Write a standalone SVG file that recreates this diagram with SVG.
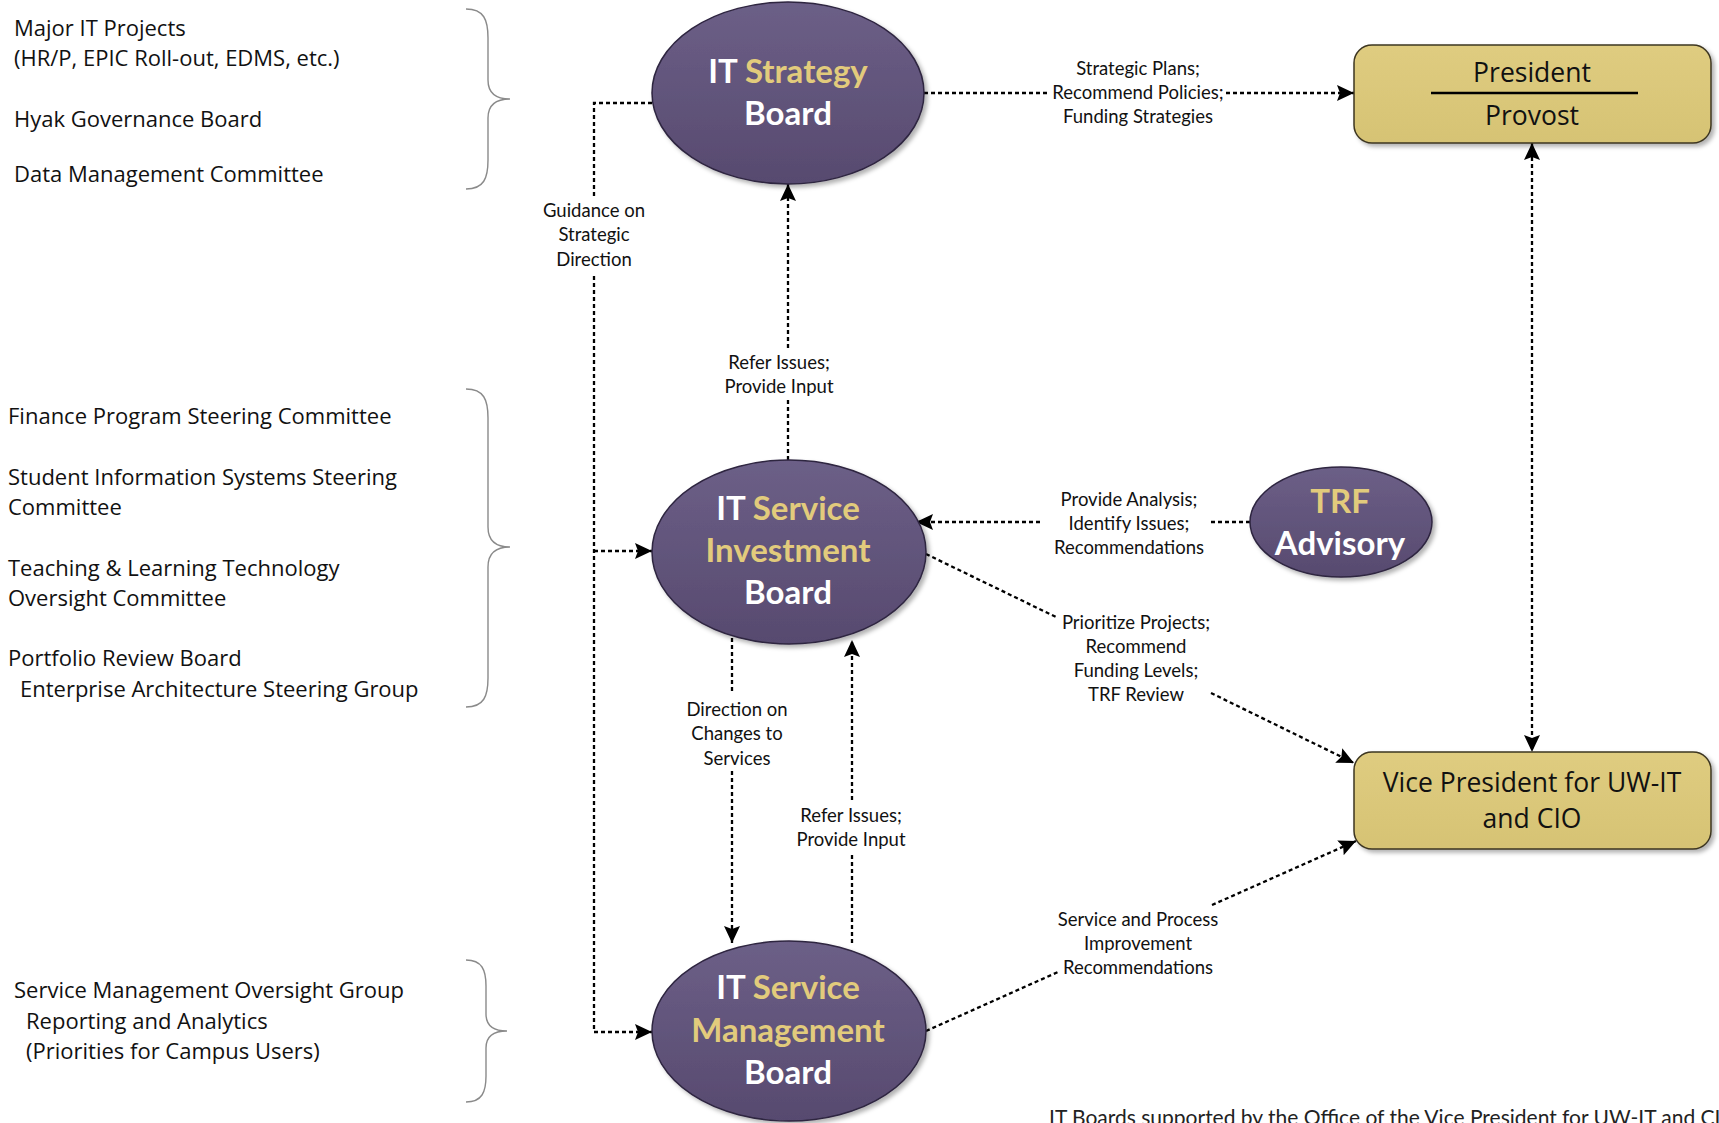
<svg xmlns="http://www.w3.org/2000/svg" width="1719" height="1123" viewBox="0 0 1719 1123">
<defs>
<linearGradient id="gp" x1="0" y1="0" x2="0" y2="1">
<stop offset="0" stop-color="#6c5f87"/>
<stop offset="1" stop-color="#574a6f"/>
</linearGradient>
<linearGradient id="gg" x1="0" y1="0" x2="0" y2="1">
<stop offset="0" stop-color="#dfcc80"/>
<stop offset="1" stop-color="#d6c374"/>
</linearGradient>
<filter id="sh" x="-10%" y="-10%" width="125%" height="125%">
<feDropShadow dx="3" dy="3" stdDeviation="2" flood-color="#000" flood-opacity="0.3"/>
</filter>
<marker id="ah" markerUnits="userSpaceOnUse" markerWidth="17" markerHeight="16" viewBox="0 0 17 16" refX="17" refY="8" orient="auto-start-reverse">
<path d="M0,0 L17,8 L0,16 L3,8 Z" fill="#000"/>
</marker>
<style>
.ell{fill:url(#gp);stroke:#2e2540;stroke-width:1.5;filter:url(#sh)}
.box{fill:url(#gg);stroke:#3d3620;stroke-width:1.5;filter:url(#sh)}
.nt{font-family:Lato,"Open Sans","Liberation Sans",sans-serif;font-weight:bold;font-size:33px;fill:#fff;text-anchor:middle}
.gold{fill:#e2cb7c}
.bt{font-family:"Open Sans","Liberation Sans",sans-serif;font-size:26.5px;fill:#111;text-anchor:middle}
.lt{font-family:"Open Sans","Liberation Sans",sans-serif;font-size:22px;fill:#111}
.cl{font-family:Lato,"Open Sans","Liberation Sans",sans-serif;font-size:18.5px;fill:#111;text-anchor:middle}
.cn{fill:none;stroke:#000;stroke-width:2.3;stroke-dasharray:4 3}
.br{fill:none;stroke:#8a8a8a;stroke-width:1.4}
.ft{font-family:Lato,"Open Sans","Liberation Sans",sans-serif;font-size:21px;fill:#222}
</style>
</defs>
<rect width="1719" height="1123" fill="#fff"/>

<g id="left-lists">
<text class="lt" x="14" y="36">Major IT Projects</text>
<text class="lt" x="14" y="66">(HR/P, EPIC Roll-out, EDMS, etc.)</text>
<text class="lt" x="14" y="127">Hyak Governance Board</text>
<text class="lt" x="14" y="182">Data Management Committee</text>
<path class="br" d="M466,9 C484,9 488,20 488,38 L488,80 C488,92 494,99 510,99 C494,99 488,106 488,118 L488,160 C488,178 484,189 466,189"/>

<text class="lt" x="8" y="424">Finance Program Steering Committee</text>
<text class="lt" x="8" y="485">Student Information Systems Steering</text>
<text class="lt" x="8" y="515">Committee</text>
<text class="lt" x="8" y="576">Teaching &amp; Learning Technology</text>
<text class="lt" x="8" y="606">Oversight Committee</text>
<text class="lt" x="8" y="666">Portfolio Review Board</text>
<text class="lt" x="20" y="697">Enterprise Architecture Steering Group</text>
<path class="br" d="M466,389 C484,389 488,400 488,418 L488,527 C488,539 494,547 510,547 C494,547 488,555 488,567 L488,678 C488,696 484,707 466,707"/>

<text class="lt" x="14" y="998">Service Management Oversight Group</text>
<text class="lt" x="26" y="1029">Reporting and Analytics</text>
<text class="lt" x="26" y="1059">(Priorities for Campus Users)</text>
<path class="br" d="M466,960 C482,960 486,970 486,986 L486,1014 C486,1025 492,1031 507,1031 C492,1031 486,1037 486,1048 L486,1076 C486,1092 482,1102 466,1102"/>
</g>

<g id="connectors">
<!-- Strategy -> President -->
<path class="cn" d="M924,93 L1050,93"/>
<path class="cn" d="M1226,93 L1354,93" marker-end="url(#ah)"/>
<text class="cl" x="1138" y="75">Strategic Plans;</text>
<text class="cl" x="1138" y="99">Recommend Policies;</text>
<text class="cl" x="1138" y="123">Funding Strategies</text>

<!-- Guidance on Strategic Direction -->
<path class="cn" d="M652,103 L594,103 L594,196"/>
<path class="cn" d="M594,276 L594,1032 L652,1032" marker-end="url(#ah)"/>
<path class="cn" d="M594,551 L652,551" marker-end="url(#ah)"/>
<text class="cl" x="594" y="217">Guidance on</text>
<text class="cl" x="594" y="241">Strategic</text>
<text class="cl" x="594" y="266">Direction</text>

<!-- ISIB -> Strategy -->
<path class="cn" d="M788,460 L788,399"/>
<path class="cn" d="M788,348 L788,184" marker-end="url(#ah)"/>
<text class="cl" x="779" y="369">Refer Issues;</text>
<text class="cl" x="779" y="393">Provide Input</text>

<!-- TRF -> ISIB -->
<path class="cn" d="M1250,522 L1211,522"/>
<path class="cn" d="M1040,522 L916,522" marker-end="url(#ah)"/>
<text class="cl" x="1129" y="506">Provide Analysis;</text>
<text class="cl" x="1129" y="530">Identify Issues;</text>
<text class="cl" x="1129" y="554">Recommendations</text>

<!-- ISIB -> VP -->
<path class="cn" d="M926,554 L1058,618"/>
<path class="cn" d="M1211,693 L1354,763" marker-end="url(#ah)"/>
<text class="cl" x="1136" y="629">Prioritize Projects;</text>
<text class="cl" x="1136" y="653">Recommend</text>
<text class="cl" x="1136" y="677">Funding Levels;</text>
<text class="cl" x="1136" y="701">TRF Review</text>

<!-- ISIB -> ISMB -->
<path class="cn" d="M732,638 L732,694"/>
<path class="cn" d="M732,771 L732,943" marker-end="url(#ah)"/>
<text class="cl" x="737" y="716">Direction on</text>
<text class="cl" x="737" y="740">Changes to</text>
<text class="cl" x="737" y="765">Services</text>

<!-- ISMB -> ISIB -->
<path class="cn" d="M852,943 L852,853"/>
<path class="cn" d="M852,800 L852,640" marker-end="url(#ah)"/>
<text class="cl" x="851" y="822">Refer Issues;</text>
<text class="cl" x="851" y="846">Provide Input</text>

<!-- ISMB -> VP -->
<path class="cn" d="M926,1031 L1058,972"/>
<path class="cn" d="M1212,905 L1356,841" marker-end="url(#ah)"/>
<text class="cl" x="1138" y="926">Service and Process</text>
<text class="cl" x="1138" y="950">Improvement</text>
<text class="cl" x="1138" y="974">Recommendations</text>

<!-- President <-> VP -->
<path class="cn" d="M1532,143 L1532,752" marker-start="url(#ah)" marker-end="url(#ah)"/>
</g>

<g id="it-strategy-board">
<ellipse class="ell" cx="788" cy="93" rx="136" ry="91"/>
<text class="nt" x="788" y="83">IT <tspan class="gold">Strategy</tspan></text>
<text class="nt" x="788" y="125">Board</text>
</g>

<g id="it-service-investment-board">
<ellipse class="ell" cx="789" cy="552" rx="137" ry="92"/>
<text class="nt" x="788" y="520">IT <tspan class="gold">Service</tspan></text>
<text class="nt gold" x="788" y="562">Investment</text>
<text class="nt" x="788" y="604">Board</text>
</g>

<g id="it-service-management-board">
<ellipse class="ell" cx="789" cy="1031" rx="137" ry="90"/>
<text class="nt" x="788" y="999">IT <tspan class="gold">Service</tspan></text>
<text class="nt gold" x="788" y="1042">Management</text>
<text class="nt" x="788" y="1084">Board</text>
</g>

<g id="trf-advisory">
<ellipse class="ell" cx="1341" cy="522" rx="91" ry="55"/>
<text class="nt gold" x="1340" y="513">TRF</text>
<text class="nt" x="1340" y="555">Advisory</text>
</g>

<g id="president-provost">
<rect class="box" x="1354" y="45" width="357" height="98" rx="18"/>
<text class="bt" x="1532" y="82">President</text>
<line x1="1431" y1="93" x2="1638" y2="93" stroke="#000" stroke-width="2.5"/>
<text class="bt" x="1532" y="125">Provost</text>
</g>

<g id="vp-uwit-cio">
<rect class="box" x="1354" y="752" width="357" height="97" rx="18"/>
<text class="bt" x="1532" y="792">Vice President for UW-IT</text>
<text class="bt" x="1532" y="828">and CIO</text>
</g>

<text class="ft" x="1049" y="1125">IT Boards supported by the Office of the Vice President for UW-IT and CIO</text>
</svg>
